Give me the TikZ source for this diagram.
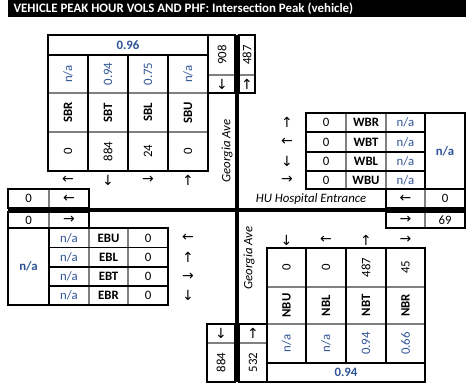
\documentclass[tikz,border=0pt]{standalone}
\usepackage{fontspec}
\setmainfont{Carlito}
\newfontfamily\arrowfont{DejaVu Sans}
\definecolor{phfblue}{RGB}{47,84,150}
\definecolor{divgray}{RGB}{128,128,128}

\tikzset{
  road/.style={line width=4.5pt},
  frame/.style={line width=1.5pt},
  divide/.style={line width=1.5pt, draw=divgray},
  title/.style={text=white, font=\bfseries\fontsize{12.9}{14}\selectfont},
  lbl/.style={font=\bfseries\fontsize{12.8}{14}\selectfont},
  vol/.style={font=\fontsize{12.8}{14}\selectfont},
  phf/.style={text=phfblue, font=\fontsize{12.8}{14}\selectfont},
  tot/.style={text=phfblue, font=\bfseries\fontsize{12.8}{14}\selectfont},
  arr/.style={font=\arrowfont\fontsize{14}{14}\selectfont},
  street/.style={font=\itshape\fontsize{12.8}{14}\selectfont},
}

\begin{document}
\begin{tikzpicture}[x=1pt,y=-1pt]
  \useasboundingbox (0,0) rectangle (474,389);

  % title bar
  \fill (8,0) rectangle (466,17);
  \node[title, anchor=west] (title) at (10,8.5) {VEHICLE PEAK HOUR VOLS AND PHF: Intersection Peak (vehicle)};

  % road centre lines
  \draw[road] (237,35) -- (237,382);
  \draw[road] (8,210) -- (466,210);

  % southbound approach
  \draw[divide] (48,93) -- (208,93);
  \draw[divide] (48,132) -- (208,132);
  \draw[frame] (88,55) -- (88,171);
  \draw[frame] (128,55) -- (128,171);
  \draw[frame] (168,55) -- (168,171);
  \draw[frame] (48,55) -- (208,55);
  \draw[frame] (48,35) rectangle (208,171);
  \node[tot] (sbphf) at (128,45) {0.96};
  \node[phf, rotate=90] (sbrphf) at (68,74) {n/a};
  \node[phf, rotate=90] (sbtphf) at (108,74) {0.94};
  \node[phf, rotate=90] (sblphf) at (148,74) {0.75};
  \node[phf, rotate=90] (sbuphf) at (188,74) {n/a};
  \node[lbl, rotate=90] (sbr) at (68,112.5) {SBR};
  \node[lbl, rotate=90] (sbt) at (108,112.5) {SBT};
  \node[lbl, rotate=90] (sbl) at (148,112.5) {SBL};
  \node[lbl, rotate=90] (sbu) at (188,112.5) {SBU};
  \node[vol, rotate=90] (sbrvol) at (68,151.5) {0};
  \node[vol, rotate=90] (sbtvol) at (108,151.5) {884};
  \node[vol, rotate=90] (sblvol) at (148,151.5) {24};
  \node[vol, rotate=90] (sbuvol) at (188,151.5) {0};
  \node[arr] (sbrarr) at (68,180) {←};
  \node[arr] (sbtarr) at (108,180) {↓};
  \node[arr] (sblarr) at (148,180) {→};
  \node[arr] (sbuarr) at (188,180) {↑};

  % north leg totals
  \draw[divide] (208,75) -- (235,75);
  \draw[divide] (239,75) -- (255,75);
  \draw[frame] (208,35) rectangle (235,93);
  \draw[frame] (239,35) rectangle (255,93);
  \node[vol, rotate=90] (nout) at (222,55) {908};
  \node[arr] (noutarr) at (222,84) {↓};
  \node[vol, rotate=90] (nin) at (247,55) {487};
  \node[arr] (ninarr) at (247,84) {↑};
  \node[street, rotate=90] (streetn) at (227,151) {Georgia Ave};

  % west leg totals
  \draw[divide] (49,189) -- (49,208);
  \draw[frame] (8,189) rectangle (89,208);
  \node[vol] (wout) at (28.5,198.5) {0};
  \node[arr] (woutarr) at (69,198.5) {←};
  \draw[divide] (49,212) -- (49,228);
  \draw[frame] (8,212) rectangle (89,228);
  \node[vol] (win) at (28.5,220) {0};
  \node[arr] (winarr) at (69,220) {→};

  % eastbound approach
  \draw[divide] (89,228) -- (89,305);
  \draw[divide] (128,228) -- (128,305);
  \draw[frame] (49,247.5) -- (168,247.5);
  \draw[frame] (49,267) -- (168,267);
  \draw[frame] (49,286) -- (168,286);
  \draw[frame] (49,228) -- (49,305);
  \draw[frame] (8,228) rectangle (168,305);
  \node[tot] (ebphf) at (28.5,266.5) {n/a};
  \node[phf] (ebuphf) at (69,238) {n/a};
  \node[phf] (eblphf) at (69,257) {n/a};
  \node[phf] (ebtphf) at (69,276.5) {n/a};
  \node[phf] (ebrphf) at (69,295.5) {n/a};
  \node[lbl] (ebu) at (108.5,238) {EBU};
  \node[lbl] (ebl) at (108.5,257) {EBL};
  \node[lbl] (ebt) at (108.5,276.5) {EBT};
  \node[lbl] (ebr) at (108.5,295.5) {EBR};
  \node[vol] (ebuvol) at (148,238) {0};
  \node[vol] (eblvol) at (148,257) {0};
  \node[vol] (ebtvol) at (148,276.5) {0};
  \node[vol] (ebrvol) at (148,295.5) {0};
  \node[arr] (ebuarr) at (188,238) {←};
  \node[arr] (eblarr) at (188,257) {↑};
  \node[arr] (ebtarr) at (188,276.5) {→};
  \node[arr] (ebrarr) at (188,295.5) {↓};

  % westbound approach
  \draw[divide] (346,113) -- (346,189);
  \draw[divide] (386,113) -- (386,189);
  \draw[frame] (306,132) -- (425,132);
  \draw[frame] (306,152) -- (425,152);
  \draw[frame] (306,171) -- (425,171);
  \draw[frame] (425,113) -- (425,189);
  \draw[frame] (306,113) rectangle (465,189);
  \node[tot] (wbphf) at (445,151) {n/a};
  \node[vol] (wbrvol) at (326,122.5) {0};
  \node[vol] (wbtvol) at (326,142) {0};
  \node[vol] (wblvol) at (326,161.5) {0};
  \node[vol] (wbuvol) at (326,180) {0};
  \node[lbl] (wbr) at (366,122.5) {WBR};
  \node[lbl] (wbt) at (366,142) {WBT};
  \node[lbl] (wbl) at (366,161.5) {WBL};
  \node[lbl] (wbu) at (366,180) {WBU};
  \node[phf] (wbrphf) at (405.5,122.5) {n/a};
  \node[phf] (wbtphf) at (405.5,142) {n/a};
  \node[phf] (wblphf) at (405.5,161.5) {n/a};
  \node[phf] (wbuphf) at (405.5,180) {n/a};
  \node[arr] (wbrarr) at (287,122.5) {↑};
  \node[arr] (wbtarr) at (287,142) {←};
  \node[arr] (wblarr) at (287,161.5) {↓};
  \node[arr] (wbuarr) at (287,180) {→};

  % east leg totals
  \draw[divide] (425,189) -- (425,208);
  \draw[frame] (386,189) rectangle (465,208);
  \node[arr] (eoutarr) at (405.5,198.5) {←};
  \node[vol] (eout) at (445,198.5) {0};
  \draw[divide] (425,212) -- (425,228);
  \draw[frame] (386,212) rectangle (465,228);
  \node[arr] (einarr) at (405.5,220) {→};
  \node[vol] (ein) at (445,220) {69};
  \node[street] (streete) at (311,199) {HU Hospital Entrance};

  % northbound approach
  \draw[divide] (267,287) -- (425,287);
  \draw[divide] (267,324) -- (425,324);
  \draw[frame] (306,248) -- (306,363);
  \draw[frame] (346,248) -- (346,363);
  \draw[frame] (386,248) -- (386,363);
  \draw[frame] (267,363) -- (425,363);
  \draw[frame] (267,248) rectangle (425,382);
  \node[vol, rotate=90] (nbuvol) at (286.5,267.5) {0};
  \node[vol, rotate=90] (nblvol) at (326,267.5) {0};
  \node[vol, rotate=90] (nbtvol) at (366,267.5) {487};
  \node[vol, rotate=90] (nbrvol) at (405.5,267.5) {45};
  \node[lbl, rotate=90] (nbu) at (286.5,305.5) {NBU};
  \node[lbl, rotate=90] (nbl) at (326,305.5) {NBL};
  \node[lbl, rotate=90] (nbt) at (366,305.5) {NBT};
  \node[lbl, rotate=90] (nbr) at (405.5,305.5) {NBR};
  \node[phf, rotate=90] (nbuphf) at (286.5,343.5) {n/a};
  \node[phf, rotate=90] (nblphf) at (326,343.5) {n/a};
  \node[phf, rotate=90] (nbtphf) at (366,343.5) {0.94};
  \node[phf, rotate=90] (nbrphf) at (405.5,343.5) {0.66};
  \node[tot] (nbphf) at (346,372.5) {0.94};
  \node[arr] (nbuarr) at (286.5,240) {↓};
  \node[arr] (nblarr) at (326,240) {←};
  \node[arr] (nbtarr) at (366,240) {↑};
  \node[arr] (nbrarr) at (405.5,240) {→};

  % south leg totals
  \draw[divide] (207,343) -- (235,343);
  \draw[divide] (239,343) -- (267,343);
  \draw[frame] (207,324) rectangle (235,382);
  \draw[frame] (239,324) rectangle (267,382);
  \node[arr] (soutarr) at (221,333.5) {↓};
  \node[vol, rotate=90] (sout) at (221,362.5) {884};
  \node[arr] (sinarr) at (253,333.5) {↑};
  \node[vol, rotate=90] (sin) at (253,362.5) {532};
  \node[street, rotate=90] (streets) at (249,258) {Georgia Ave};
\end{tikzpicture}
\end{document}
